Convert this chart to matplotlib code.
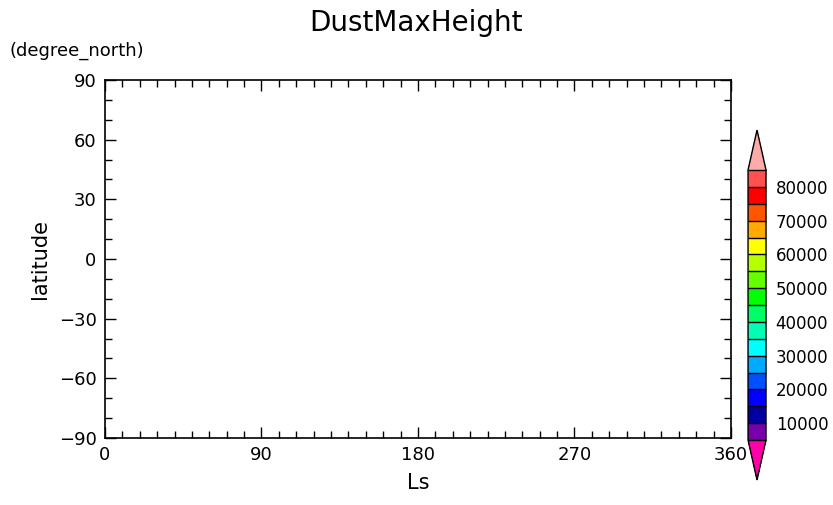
import numpy as np
import matplotlib
matplotlib.use("Agg")
import matplotlib.pyplot as plt
from matplotlib.colors import ListedColormap, BoundaryNorm
from matplotlib.cm import ScalarMappable
from matplotlib.ticker import MultipleLocator

# axes ranges / ticks
ls_range = [0, 360]
lat_range = [-90, 90]
ls_ticks = [0, 90, 180, 270, 360]
lat_ticks = [-90, -60, -30, 0, 30, 60, 90]

# colour levels of the (empty) shaded field
levels = list(range(5000, 85001, 5000))
cbar_ticks = [10000, 20000, 30000, 40000, 50000, 60000, 70000, 80000]
level_colors = [
    "#7800aa", "#0000a0", "#0000ff", "#0050ff", "#00aaff", "#00ffff",
    "#00ffb4", "#00ff64", "#00ff00", "#64ff00", "#b4ff00", "#ffff00",
    "#ffaa00", "#ff5500", "#ff0000", "#ff5050",
]
under_color = "#ff00aa"
over_color = "#ffaaaa"

title = "DustMaxHeight"
xlabel = "Ls"
ylabel = "latitude"
yunits = "(degree_north)"

plt.rcParams["font.family"] = ["DejaVu Sans"]

fig = plt.figure(figsize=(8.33, 5.05), dpi=100)
ax = fig.add_axes([0.126, 0.1327, 0.7515, 0.7089])

ax.set_xlim(*ls_range)
ax.set_ylim(*lat_range)
ax.set_xticks(ls_ticks)
ax.set_yticks(lat_ticks)
ax.xaxis.set_minor_locator(MultipleLocator(10))
ax.yaxis.set_minor_locator(MultipleLocator(10))
ax.tick_params(which="both", direction="in", top=True, right=True,
               labelsize=13, width=1.0, color="black")
ax.tick_params(which="major", length=8, pad=6)
ax.tick_params(which="minor", length=5)
ax.set_xticklabels([str(v) for v in ls_ticks])
ax.set_yticklabels([f"\u2212{-v}" if v < 0 else str(v) for v in lat_ticks])
for sp in ax.spines.values():
    sp.set_linewidth(1.2)

ax.set_xlabel(xlabel, fontsize=15, labelpad=6)
ax.set_ylabel(ylabel, fontsize=15, labelpad=6)
fig.text(0.5, 0.955, title, ha="center", va="center", fontsize=20)
fig.text(0.012, 0.9, yunits, ha="left", va="center", fontsize=13)

cmap = ListedColormap(level_colors)
cmap.set_under(under_color)
cmap.set_over(over_color)
norm = BoundaryNorm(levels, cmap.N)
sm = ScalarMappable(norm=norm, cmap=cmap)

cax = fig.add_axes([0.898, 0.0495, 0.0216, 0.693])
cb = fig.colorbar(sm, cax=cax, extend="both", extendfrac=0.148,
                  drawedges=True, ticks=cbar_ticks)
cb.outline.set_linewidth(1.0)
cb.dividers.set_color("black")
cb.dividers.set_linewidth(1.0)
cb.ax.minorticks_off()
cb.ax.tick_params(which="both", length=0, labelsize=12, pad=7)

fig.savefig("out.png", dpi=100)
